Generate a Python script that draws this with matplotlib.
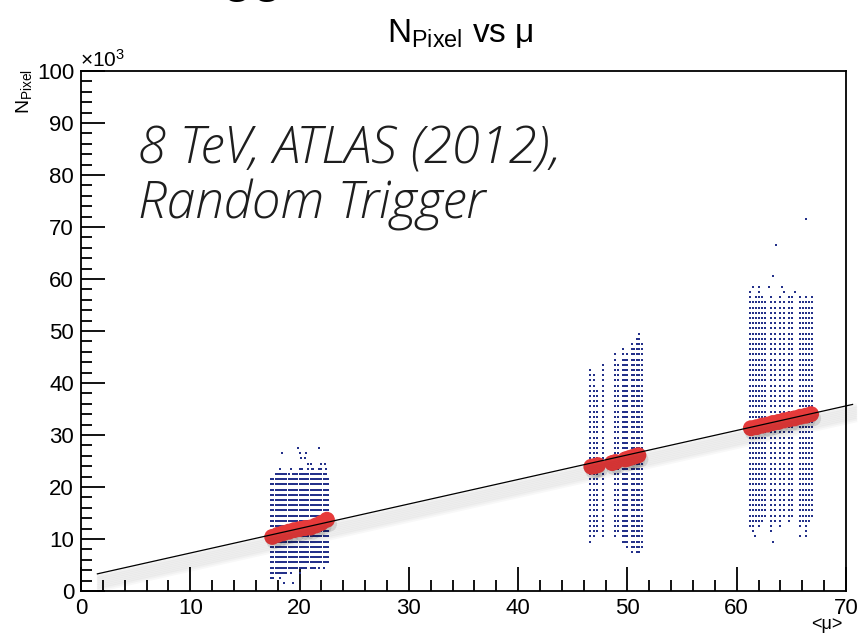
import matplotlib
matplotlib.use("Agg")
import matplotlib.pyplot as plt
import matplotlib.patheffects as pe
import numpy as np

plt.rcParams['font.family'] = ['Liberation Sans', 'DejaVu Sans']
plt.rcParams['mathtext.fontset'] = 'custom'
plt.rcParams['mathtext.rm'] = 'Liberation Sans'
plt.rcParams['mathtext.it'] = 'Liberation Sans:italic'

# occupied (mu, N_pixel/1000) bins, one column per mu value: lowest and highest row
g1_mu = [17.4, 17.6, 17.8, 18.0, 18.2, 18.4, 18.6, 18.8, 19.0, 19.2, 19.4, 19.6, 19.8, 20.0,
         20.2, 20.4, 20.6, 20.8, 21.0, 21.2, 21.4, 21.6, 21.8, 22.0, 22.2, 22.4, 22.6]
g1_lo = [2.5, 2.5, 3.5, 3.5, 2.5, 3.5, 3.5, 3.5, 4.5, 3.5, 4.5, 4.5, 4.5, 3.5,
         4.5, 4.5, 4.5, 5.5, 4.5, 4.5, 4.5, 5.5, 4.5, 5.5, 4.5, 5.5, 5.5]
g1_hi = [21.5, 21.5, 22.5, 22.5, 23.5, 22.5, 22.5, 22.5, 22.5, 21.5, 22.5, 22.5, 22.5, 23.5,
         22.5, 22.5, 22.5, 23.5, 22.5, 23.5, 22.5, 22.5, 23.5, 23.5, 22.5, 22.5, 21.5]

g2_mu = [46.6, 46.9, 47.2, 47.8, 48.9, 49.1, 49.6, 49.8, 50.0, 50.4, 50.6, 50.9, 51.1, 51.3]
g2_lo = [9.5, 10.5, 11.5, 10.5, 10.5, 11.5, 9.5, 9.5, 8.5, 7.5, 8.5, 7.5, 7.5, 8.5]
g2_hi = [42.5, 41.5, 38.5, 43.5, 45.5, 43.5, 46.5, 44.5, 45.5, 47.5, 46.5, 48.5, 49.5, 47.5]

g3_mu = [61.2, 61.5, 61.8, 62.0, 62.3, 62.6, 63.1, 63.5, 64.0, 64.3, 64.8, 65.1,
         65.8, 66.1, 66.3, 66.6, 66.9]
g3_lo = [12.5, 11.5, 13.5, 12.5, 13.5, 14.5, 11.5, 13.5, 12.5, 14.5, 13.5, 14.5,
         12.5, 13.5, 10.5, 13.5, 14.5]
g3_hi = [56.5, 55.5, 56.5, 57.5, 56.5, 55.5, 56.5, 55.5, 56.5, 55.5, 56.5, 56.5,
         56.5, 55.5, 56.5, 55.5, 56.5]

# isolated entries outside the bulk
out_mu = [19.9, 21.8, 18.4, 20.0, 20.6, 20.1, 20.5, 20.8, 21.0, 22.0, 22.3, 19.2, 20.2,
          21.1, 22.4, 18.6, 19.4,
          66.3, 63.6, 63.3, 61.5, 62.0, 63.0, 64.1, 61.2, 64.3, 65.3, 61.7, 63.3, 65.8]
out_n = [27.5, 27.5, 26.5, 26.5, 26.5, 25.5, 25.5, 24.5, 24.5, 24.5, 24.5, 23.5, 23.5,
         23.5, 23.5, 1.5, 1.5,
         71.5, 66.5, 60.5, 58.5, 58.5, 58.5, 58.5, 57.5, 57.5, 57.5, 10.5, 9.5, 10.5]

# profile: mean N_pixel per mu bin
prof_mu = [17.5, 18.0, 18.5, 19.0, 19.5, 20.0, 20.5, 21.0, 21.5, 22.0, 22.5,
           46.7, 47.0, 47.3, 48.6, 48.9, 49.8, 50.1, 50.4, 50.7, 51.0,
           61.3, 61.8, 62.3, 62.8, 63.3, 63.8, 64.3, 64.8, 65.3, 65.8, 66.3, 66.8]
prof_n = [10.4, 10.8, 11.1, 11.4, 11.7, 11.9, 12.1, 12.2, 12.6, 13.1, 13.7,
          23.9, 24.0, 24.2, 24.6, 24.8, 25.3, 25.5, 25.7, 25.9, 26.1,
          31.3, 31.5, 31.8, 32.0, 32.3, 32.5, 32.8, 33.0, 33.2, 33.5, 33.7, 34.0]

# linear fit p0 + p1*mu (in units of 1000 pixels)
fit_p0 = 2.59
fit_p1 = 0.4715
fit_range = (1.5, 70.6)

fig = plt.figure(figsize=(8.58, 6.34), dpi=100)
ax = fig.add_axes([81/858, 1 - 591/634, 765/858, 520/634])

xs, ys = [], []
for mus, los, his in ((g1_mu, g1_lo, g1_hi), (g2_mu, g2_lo, g2_hi), (g3_mu, g3_lo, g3_hi)):
    for m, lo, hi in zip(mus, los, his):
        rows = np.arange(lo, hi + 0.01, 1.0)
        xs.extend([m] * len(rows))
        ys.extend(rows)
xs.extend(out_mu)
ys.extend(out_n)
ax.plot(xs, ys, ls='none', marker='s', ms=2.05, mew=0, color='#24318a', zorder=2)

shadow = [pe.SimpleLineShadow(offset=(1.5, -1.0 - 1.3 * k), shadow_color='k', alpha=0.028,
                              linewidth=3.5) for k in range(0, 9)]
ax.plot(prof_mu, prof_n, ls='none', marker='o', ms=11.5, mew=0, color='#e63a3a', zorder=3,
        path_effects=[pe.SimplePatchShadow(offset=(1.5, -3), shadow_rgbFace='k', alpha=0.1),
                      pe.Normal()])

fx = np.array(fit_range)
ax.plot(fx, fit_p0 + fit_p1 * fx, color='k', lw=0.9, zorder=4, clip_on=False,
        path_effects=shadow + [pe.Normal()])

ax.set_xlim(0, 70)
ax.set_ylim(0, 100)
ax.set_xticks(np.arange(0, 71, 10))
ax.set_xticks(np.arange(0, 71, 2), minor=True)
ax.set_yticks(np.arange(0, 101, 10))
ax.set_yticks(np.arange(0, 101, 2), minor=True)
ax.tick_params(which='both', direction='in', width=1.3, top=False, right=False,
               labelsize=16, pad=5)
ax.tick_params(which='major', length=17)
ax.tick_params(which='minor', length=8)
for s in ax.spines.values():
    s.set_linewidth(1.3)

fig.text(80/858, 1 - 71/634, r'$\times$10$^{3}$', fontsize=15, ha='left', va='bottom')
fig.text(460/858, 1 - 42/634, r'N$_{\mathrm{Pixel}}$ vs μ', fontsize=24, ha='center',
         va='baseline')
fig.text(24/858, 1 - 69/634, r'N$_{\mathrm{Pixel}}$', fontsize=14, rotation=90,
         ha='center', va='top')
fig.text(843/858, 1 - 633/634, '<μ>', fontsize=13, ha='right', va='bottom')

ax.text(0.075, 0.795, '8 TeV, ATLAS (2012),\nRandom Trigger', transform=ax.transAxes,
        fontsize=37, family=['Open Sans', 'Lato', 'DejaVu Sans'], weight='light',
        style='italic', color='#1e1e1e', linespacing=1.08, va='center', ha='left')

# slide heading descending into the frame
fig.text(222/858, 1 + 10/634, 'gg', fontsize=40, ha='left', va='baseline')

fig.savefig('out.png', dpi=100)
